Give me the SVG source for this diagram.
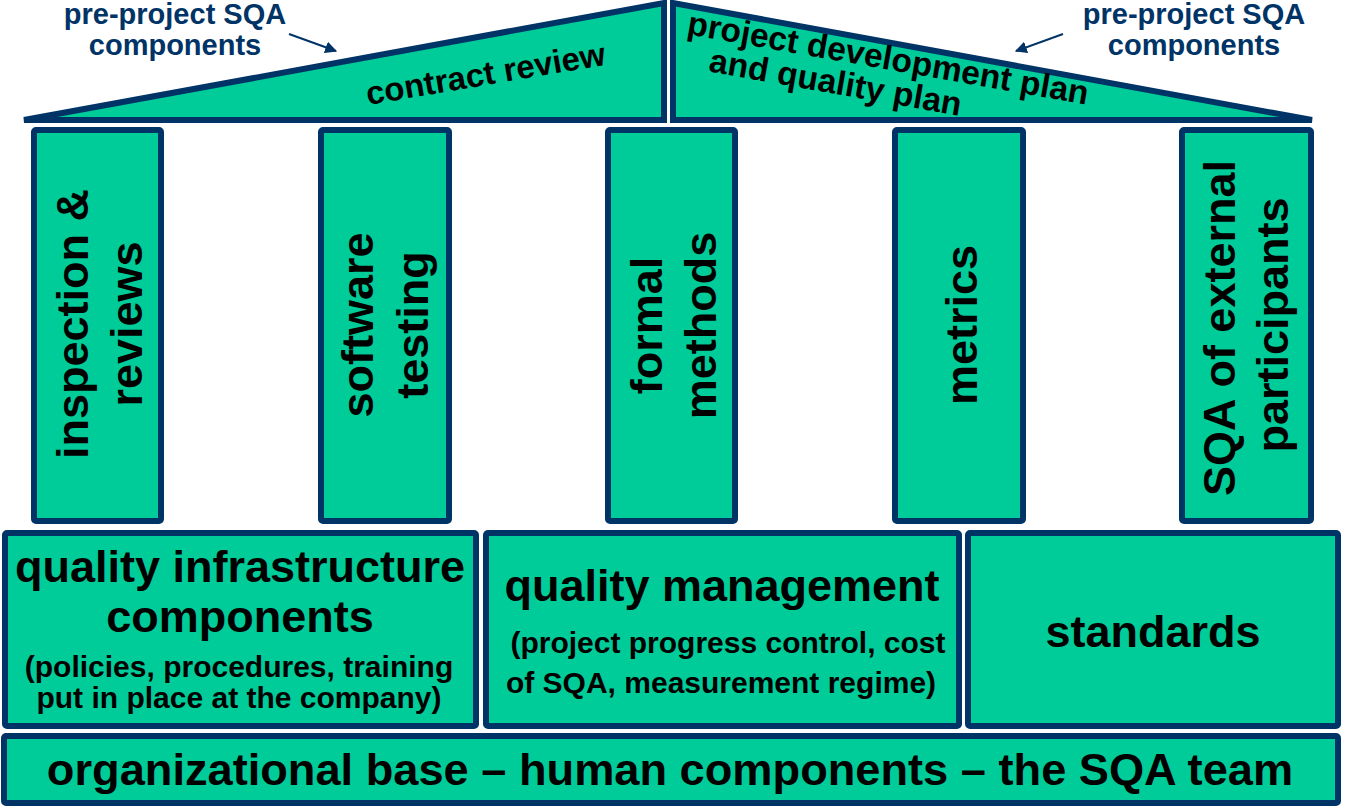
<svg xmlns="http://www.w3.org/2000/svg" width="1348" height="808" viewBox="0 0 1348 808">
<defs>
<style>
.shape{fill:#00CC99;stroke:#003366;stroke-width:6;}
.t{font-family:"Liberation Sans",Arial,sans-serif;font-weight:bold;fill:#000;}
.col{font-size:45px;text-anchor:middle;}
.big{font-size:45px;text-anchor:middle;}
.sub{font-size:30px;text-anchor:middle;}
.lbl{font-family:"Liberation Sans",Arial,sans-serif;font-weight:bold;font-size:29px;fill:#003366;text-anchor:middle;}
.arr{stroke:#003366;stroke-width:2;fill:none;}
</style>
<marker id="ah" viewBox="0 0 10 10" refX="9" refY="5" markerWidth="6" markerHeight="6" orient="auto" markerUnits="strokeWidth">
<path d="M0,0 L10,5 L0,10 z" fill="#003366"/>
</marker>
</defs>
<rect width="1348" height="808" fill="#fff"/>

<g id="roof-left">
<polygon class="shape" points="24,120 664,3 664,120"/>
<text class="t" font-size="33" transform="translate(368,105) rotate(-9.6)">contract review</text>
</g>
<g id="roof-right">
<polygon class="shape" points="673,3 673,120 1312,120"/>
<text class="t" font-size="33.6" transform="translate(686,34) rotate(10)"><tspan x="0" y="0">project development plan</tspan><tspan x="28" y="33">and quality plan</tspan></text>
</g>

<g id="label-left">
<text class="lbl"><tspan x="175" y="24">pre-project SQA</tspan><tspan x="175" y="55">components</tspan></text>
</g>
<g id="label-right">
<text class="lbl"><tspan x="1194" y="24">pre-project SQA</tspan><tspan x="1194" y="55">components</tspan></text>
</g>

<g id="col-inspection">
<rect class="shape" x="34" y="130" width="127" height="391" rx="2"/>
<text class="t col" transform="translate(97.5,324) rotate(-90)"><tspan x="0" y="-9.5">inspection &amp;</tspan><tspan x="0" y="44.5">reviews</tspan></text>
</g>
<g id="col-testing">
<rect class="shape" x="321" y="130" width="128" height="391" rx="2"/>
<text class="t col" transform="translate(385,325) rotate(-90)"><tspan x="0" y="-12">software</tspan><tspan x="0" y="43">testing</tspan></text>
</g>
<g id="col-formal">
<rect class="shape" x="608" y="130" width="127" height="391" rx="2"/>
<text class="t col" transform="translate(671.5,325.5) rotate(-90)"><tspan x="0" y="-9.5">formal</tspan><tspan x="0" y="44.5">methods</tspan></text>
</g>
<g id="col-metrics">
<rect class="shape" x="895" y="130" width="128" height="391" rx="2"/>
<text class="t col" transform="translate(959,325) rotate(-90)"><tspan x="0" y="18">metrics</tspan></text>
</g>
<g id="col-external">
<rect class="shape" x="1182" y="130" width="129" height="391" rx="2"/>
<text class="t col" transform="translate(1246.5,328) rotate(-90)"><tspan x="0" y="-11.5">SQA of external</tspan><tspan x="3" y="41.5">participants</tspan></text>
</g>

<g id="box-infrastructure">
<rect class="shape" x="5" y="533" width="471" height="193" rx="2"/>
<text class="t big"><tspan x="240" y="582">quality infrastructure</tspan><tspan x="240" y="632">components</tspan></text>
<text class="t sub"><tspan x="239" y="677">(policies, procedures, training</tspan><tspan x="239" y="708">put in place at the company)</tspan></text>
</g>
<g id="box-management">
<rect class="shape" x="486" y="533" width="473" height="193" rx="2"/>
<text class="t big" x="722" y="601">quality management</text>
<text class="t sub"><tspan x="728" y="653">(project progress control, cost</tspan><tspan x="721" y="693">of SQA, measurement regime)</tspan></text>
</g>
<g id="box-standards">
<rect class="shape" x="968" y="533" width="370" height="193" rx="2"/>
<text class="t big" x="1153" y="647">standards</text>
</g>
<g id="box-base">
<rect class="shape" x="4" y="736" width="1334" height="67" rx="2"/>
<text class="t" font-size="45.2" text-anchor="middle" x="670" y="785">organizational base – human components – the SQA team</text>
</g>

<g id="connectors">
<line class="arr" x1="289" y1="34" x2="336" y2="51" marker-end="url(#ah)"/>
<line class="arr" x1="1063" y1="34" x2="1016" y2="51" marker-end="url(#ah)"/>
</g>
</svg>
